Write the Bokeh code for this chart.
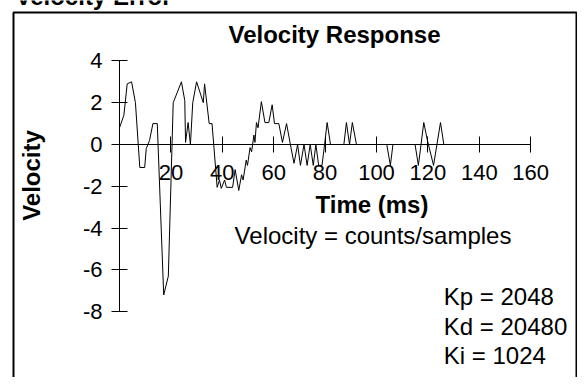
import math
from bokeh.plotting import figure
from bokeh.models import LinearAxis, FixedTicker, Label, ColumnDataSource
from bokeh.embed import file_html
from bokeh.resources import INLINE

# ---- data ----
time_ms = [0.0, 1.7, 3.0, 4.7, 6.2, 7.9, 9.8, 10.4, 11.7, 13.0, 14.7, 17.2, 19.0,
           20.9, 24.1, 25.4, 25.7, 26.7, 27.6, 28.5, 30.0, 32.6, 33.1, 34.9, 36.0,
           38.0, 38.9, 39.6, 40.9, 41.6, 44.0, 45.0, 46.4, 47.5, 48.1, 49.3, 49.8,
           50.8, 51.4, 52.3, 52.7, 53.3, 53.9, 55.2, 56.6, 58.1, 59.4, 60.3, 62.0,
           63.4, 65.0, 66.5, 67.9, 69.3, 70.4, 71.8, 73.0, 74.2, 75.4, 76.4, 77.5,
           78.8, 79.8, 80.8, 82.1, 87.3, 88.3, 89.5, 90.6, 92.2, 104.0, 105.4,
           106.4, 115.0, 116.3, 118.4, 119.8, 122.2, 124.9, 126.2]
velocity = [0.8, 1.4, 2.9, 3.0, 2.0, -1.1, -1.1, -0.2, 0.2, 1.0, 1.0, -7.2, -6.3,
            2.0, 3.0, 2.1, 0.1, 1.05, 0.0, 2.0, 3.0, 2.0, 2.9, 1.0, 1.0,
            -2.05, -1.7, -2.1, -1.7, -2.05, -2.05, -1.2, -2.2, -1.45, -1.7, -0.75, -1.0,
            -0.15, -0.35, 0.45, 0.1, 1.05, 0.8, 2.05, 1.05, 1.05, 1.9, 1.0, 1.0,
            0.1, 1.0, 0.0, -0.9, 0.0, -1.0, 0.0, -1.0, 0.0, -1.0, 0.0, -1.0,
            -1.0, 0.0, 1.05, 0.0, 0.0, 1.05, 0.0, 1.05, 0.0, 0.0, -1.0,
            0.0, 0.0, -1.0, 1.05, 0.2, -1.0, 1.05, 0.0]
x_ticks = [20, 40, 60, 80, 100, 120, 140, 160]
y_ticks = [-8, -6, -4, -2, 0, 2, 4]
gains = ["Kp = 2048", "Kd = 20480", "Ki = 1024"]

# ---- layout geometry (pixels) ----
W, H = 577, 377
X0_PX, X_SCALE = 119.0, 2.57
Y0_PX, Y_SCALE = 144.0, 20.9
FONT = "Liberation Sans"
FS = "24px"
TICK_FS = "22px"


def xd(px):
    return (px - X0_PX) / X_SCALE


def yd(py):
    return (Y0_PX - py) / Y_SCALE


p = figure(width=W, height=H, x_range=(xd(0), xd(W)), y_range=(yd(H), yd(0)),
           x_axis_type=None, y_axis_type=None, output_backend="svg",
           toolbar_location=None, min_border=0, outline_line_color=None)

# frame box
p.quad(left=xd(13), right=xd(W - 1), top=yd(12), bottom=yd(H + 30),
       fill_color=None, line_color="black", line_width=2)

axis_kw = dict(fixed_location=0, major_tick_in=8, major_tick_out=8,
               minor_tick_in=0, minor_tick_out=0,
               major_label_text_font=FONT, major_label_text_font_size=TICK_FS,
               major_label_text_color="black", axis_line_color="black",
               major_tick_line_color="black")
xaxis = LinearAxis(bounds=(0, 160), ticker=FixedTicker(ticks=x_ticks),
                   major_label_standoff=12,
                   major_label_overrides={t: str(t) for t in x_ticks}, **axis_kw)
yaxis = LinearAxis(bounds=(-8, 4), ticker=FixedTicker(ticks=y_ticks),
                   major_label_standoff=9,
                   major_label_overrides={t: str(t) for t in y_ticks}, **axis_kw)
p.add_layout(xaxis, "below")
p.add_layout(yaxis, "left")

src = ColumnDataSource(dict(t=time_ms, v=velocity))
p.line("t", "v", source=src, line_color="black", line_width=1)


def label(px, py, text, bold=False, align="left", angle=0.0):
    p.add_layout(Label(x=xd(px), y=yd(py), text=text, text_align=align,
                       text_baseline="middle", angle=angle, text_font=FONT,
                       text_font_size=FS, text_color="black",
                       text_font_style="bold" if bold else "normal"))


label(15, -4, "Velocity Error", bold=True)
label(334, 33.5, "Velocity Response", bold=True, align="center")
label(371.5, 203.5, "Time (ms)", bold=True, align="center")
label(372.5, 235, "Velocity = counts/samples", align="center")
label(31, 175, "Velocity", bold=True, align="center", angle=math.pi / 2)
for i, g in enumerate(gains):
    label(443.3, 295.8 + i * 29.7, g)

open("out.html", "w").write(file_html(p, INLINE))
